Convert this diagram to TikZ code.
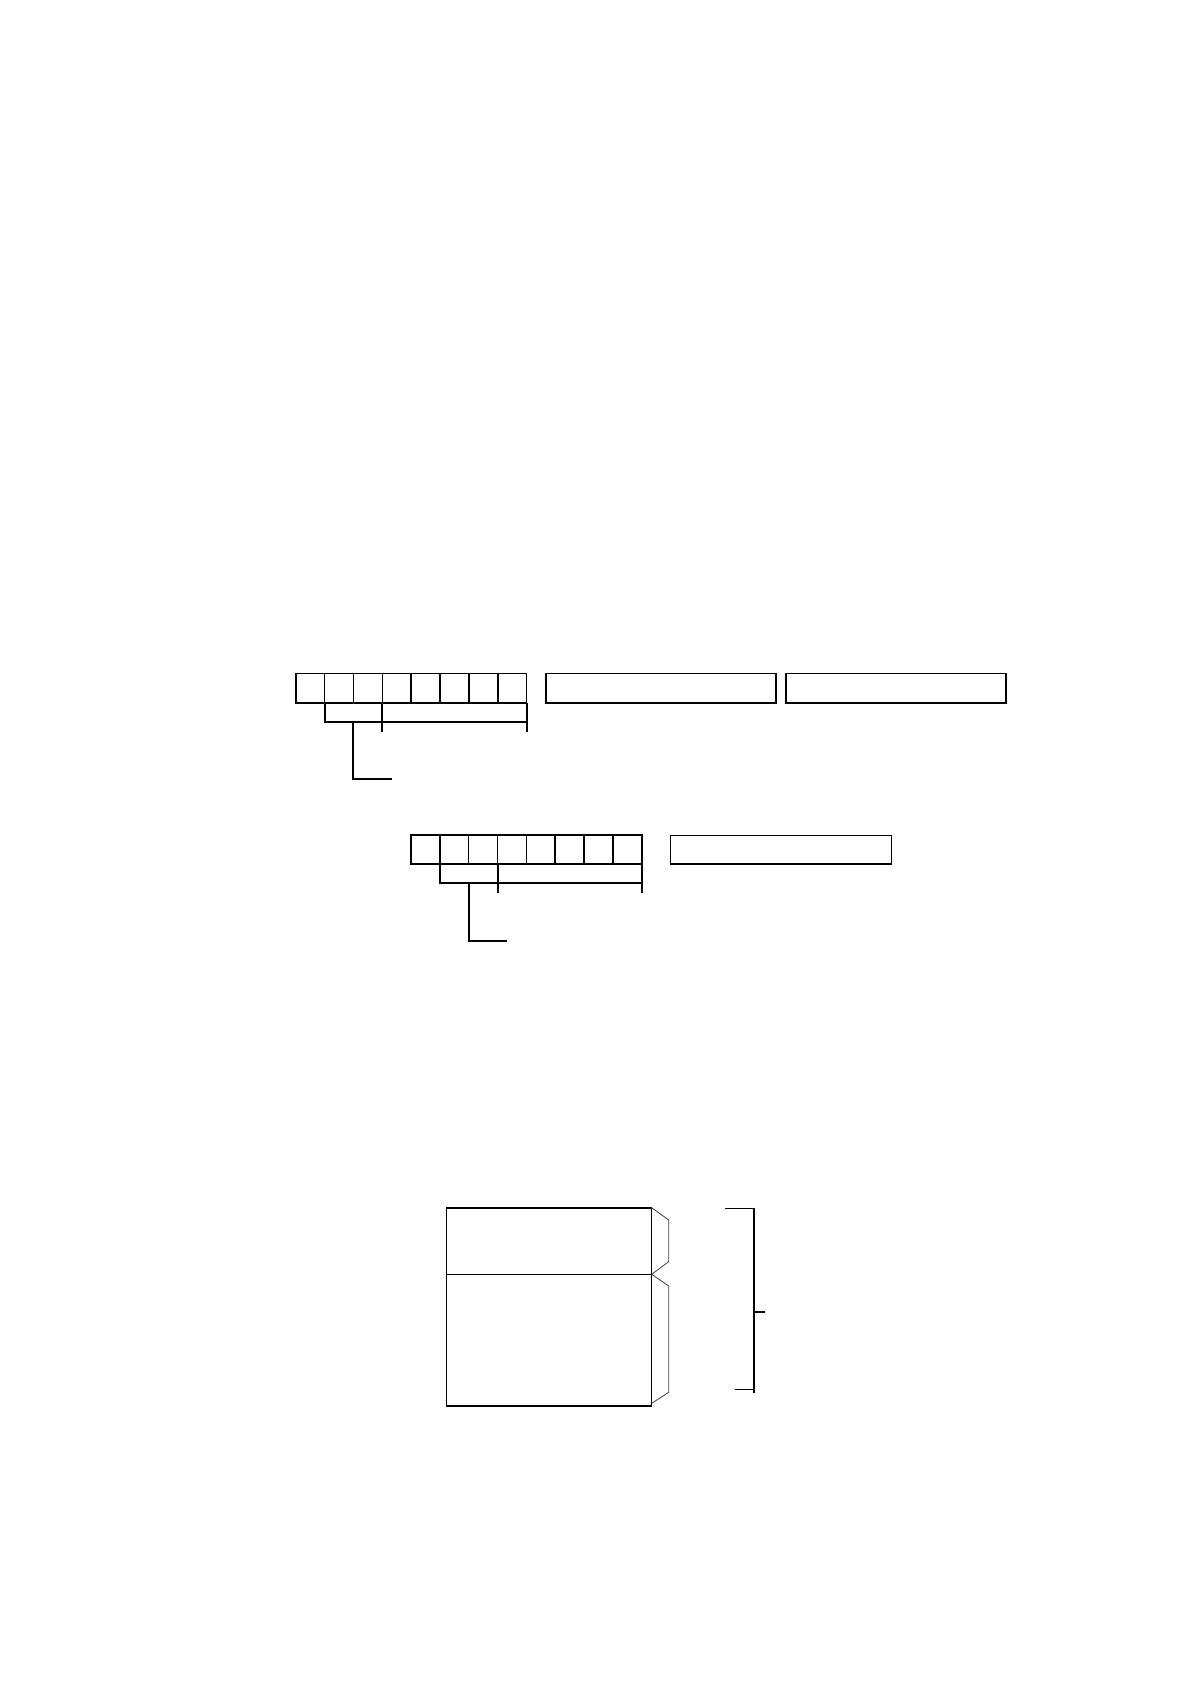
\documentclass[tikz,border=0pt]{standalone}
\begin{document}
\begin{tikzpicture}[x=1pt,y=-1pt,
  cellbox/.style={draw,line width=1.6pt,inner sep=0pt,outer sep=0pt,minimum width=28.85pt,minimum height=29.4pt,anchor=north west},
  fieldbox/.style={draw,line width=1.6pt,inner sep=0pt,outer sep=0pt,minimum height=29.4pt,anchor=north west},
  brk/.style={line width=2pt},
  thinbr/.style={line width=0.8pt,draw=black!75},
  blk/.style={draw,line width=1.4pt,inner sep=0pt,outer sep=0pt,minimum width=205.4pt,anchor=north west}]
\useasboundingbox (0,0) rectangle (1190,1684);
% row 1
\foreach \i in {1,...,8}{
  \node[cellbox] (r1c\i) at ({295.7+(\i-1)*28.875},673.3) {};
}
\node[fieldbox,minimum width=230.3pt] (r1a) at (545.7,673.3) {};
\node[fieldbox,minimum width=220.3pt] (r1b) at (785.7,673.3) {};
\draw[brk] (r1c2.south west) -- ++(0,19) -- ++(201.7,0);
\draw[brk] (r1c4.south west) -- ++(0,29);
\draw[brk] (r1c8.south east) -- ++(0,29);
\draw[brk] (r1c3.south west) ++(0,19) -- ++(0,57.6) -- ++(38.7,0);
% row 2
\foreach \i in {1,...,8}{
  \node[cellbox,minimum height=29pt] (r2c\i) at ({411+(\i-1)*28.84},835) {};
}
\node[fieldbox,minimum width=221pt,minimum height=28.7pt] (r2a) at (670.3,835.3) {};
\draw[brk] (r2c2.south west) -- ++(0,19.3) -- ++(201.7,0);
\draw[brk] (r2c4.south west) -- ++(0,29.3);
\draw[brk] (r2c8.south east) -- ++(0,29.3);
\draw[brk] (r2c3.south west) ++(0,19.3) -- ++(0,57.7) -- ++(38.3,0);
% block
\node[blk,minimum height=66.6pt] (upper) at (446.3,1207.7) {};
\node[blk,minimum height=131.7pt] (lower) at (446.3,1274.3) {};
\draw[line width=2pt] (upper.north west) -- (upper.north east);
\draw[thinbr] (upper.north east) -- ++(17,12.3) -- ++(0,41.7) -- (upper.south east);
\draw[thinbr] (lower.north east) -- ++(17,11.7) -- ++(0,106.3) -- ++(-17,11);
% right bracket
\coordinate (bt) at (725,1208.3);
\coordinate (bb) at (735.3,1389.3);
\coordinate (bm) at (765.3,1311.7);
\draw[line width=1.6pt] (bt) -| (754,1393.3);
\draw[line width=1.6pt] (bb) -- (754,1389.3);
\draw[line width=1.6pt] (754,1311.7) -- (bm);
\end{tikzpicture}
\end{document}
